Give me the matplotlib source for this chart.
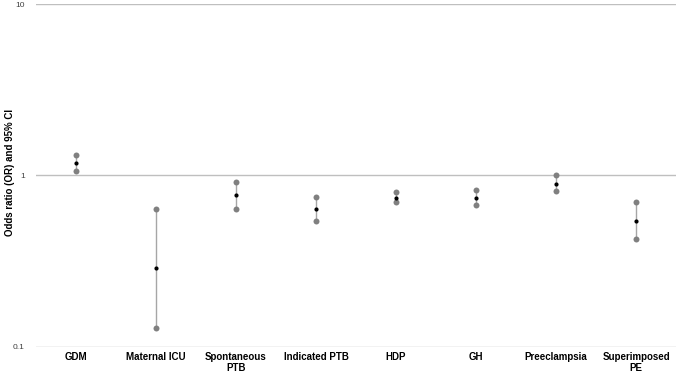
import matplotlib
matplotlib.use("Agg")
import matplotlib.pyplot as plt
import numpy as np

categories = ["GDM", "Maternal ICU", "Spontaneous\nPTB", "Indicated PTB", "HDP", "GH", "Preeclampsia", "Superimposed\nPE"]
odds_ratio = [1.18, 0.287, 0.77, 0.635, 0.74, 0.74, 0.89, 0.54]
ci_lower = [1.06, 0.128, 0.635, 0.54, 0.70, 0.67, 0.81, 0.425]
ci_upper = [1.32, 0.635, 0.91, 0.75, 0.80, 0.82, 1.00, 0.70]
yticks = [0.1, 1, 10]
ytick_labels = ["0.1", "1", "10"]

plt.rcParams['font.family'] = ['Liberation Sans', 'DejaVu Sans']

fig = plt.figure(figsize=(6.76, 3.73), dpi=100)
ax = fig.add_axes([0.0533, 0.0705, 0.9467, 0.9185])

x = np.arange(len(categories))
ax.vlines(x, ci_lower, ci_upper, color="#a6a6a6", lw=1.0, zorder=2)
ax.plot(x, ci_lower, 'o', color="#808080", ms=4.3, mec="none", zorder=3)
ax.plot(x, ci_upper, 'o', color="#808080", ms=4.3, mec="none", zorder=3)
ax.plot(x, odds_ratio, 'o', color="black", ms=3.0, mec="none", zorder=4)

ax.set_yscale('log')
ax.set_ylim(0.1, 10)
ax.set_xlim(-0.5, len(categories) - 0.5)
ax.set_yticks(yticks)
ax.set_yticklabels(ytick_labels, fontsize=6, color="#404040")
ax.yaxis.set_minor_locator(matplotlib.ticker.NullLocator())
ax.set_xticks(x)
ax.set_xticklabels(categories, fontsize=7, fontweight='bold', linespacing=1.05)
ax.tick_params(axis='x', length=0, pad=4)
ax.tick_params(axis='y', length=0, pad=8)

for yv in yticks:
    ax.axhline(yv, color="#bfbfbf", lw=1.0, zorder=1)
for s in ax.spines.values():
    s.set_visible(False)

fig.text(0.008, 1 - 173 / 373, "Odds ratio (OR) and 95% CI", fontsize=7, fontweight='bold',
         rotation=90, ha='left', va='center')

fig.savefig("out.png", dpi=100)
